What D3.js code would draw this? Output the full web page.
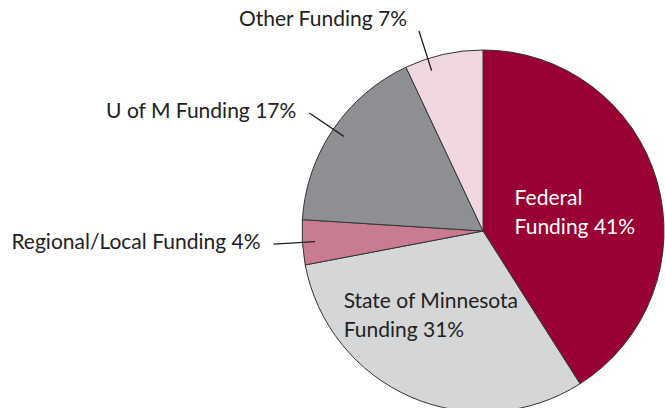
<!DOCTYPE html>
<html>
<head>
<meta charset="utf-8">
<script src="https://cdn.jsdelivr.net/npm/d3@7"></script>
<style>
  body { margin: 0; background: #fff; }
  text { font-family: Lato, "Open Sans", sans-serif; }
</style>
</head>
<body>
<div id="chart-container"></div>
<script>
// data: funding shares, clockwise from the top
const categories = ['Federal', 'State of Minnesota', 'Regional/Local', 'U of M', 'Other']
const shares = [41, 31, 4, 17, 7]
const colors = ['#990033', '#d5d6d8', '#c97c91', '#8e8f92', '#f0d6de']

// labels: inside the slice (two lines) or outside with a leader line
const insideLabels = {
  'Federal': ['Federal', 'Funding 41%'],
  'State of Minnesota': ['State of Minnesota', 'Funding 31%']
}
const outsideLabels = {
  'Regional/Local': 'Regional/Local Funding 4%',
  'U of M': 'U of M Funding 17%',
  'Other': 'Other Funding 7%'
}

const width = 665
const height = 408
const cx = 483
const cy = 231
const radius = 181
const fontSize = 21

const svg = d3.select('#chart-container')
  .append('svg')
  .attr('width', width)
  .attr('height', height)

const g = svg.append('g')
  .attr('transform', `translate(${cx}, ${cy})`)

const data = categories.map((c, i) => ({ key: c, value: shares[i], color: colors[i] }))

const pie = d3.pie().sort(null).value(d => d.value)
const arc = d3.arc().innerRadius(0).outerRadius(radius)
const arcs = pie(data)

// slices
g.selectAll('path')
  .data(arcs)
  .enter()
  .append('path')
  .attr('d', arc)
  .attr('fill', d => d.data.color)
  .attr('stroke', '#333')
  .attr('stroke-width', 1)

// inside labels, placed on the mid angle and shifted a bit
const insidePos = {
  'Federal': { r: 0.55, dx: -64, dy: 2 },
  'State of Minnesota': { r: 0.52, dx: -102, dy: -9 }
}
arcs.filter(d => insideLabels[d.data.key]).forEach(d => {
  const mid = (d.startAngle + d.endAngle) / 2
  const p = insidePos[d.data.key]
  const x = Math.sin(mid) * radius * p.r + p.dx
  const y = -Math.cos(mid) * radius * p.r + p.dy
  const t = g.append('text')
    .attr('x', x)
    .attr('y', y)
    .attr('font-size', fontSize)
    .attr('fill', d.data.key === 'Federal' ? '#fff' : '#222')
  insideLabels[d.data.key].forEach((line, i) => {
    t.append('tspan')
      .attr('x', x)
      .attr('dy', i === 0 ? 0 : 28.5)
      .text(line)
  })
})

// outside labels with leader lines
const angleShift = { 'Other': -0.09, 'U of M': 0, 'Regional/Local': 0 }
arcs.filter(d => outsideLabels[d.data.key]).forEach(d => {
  const a = (d.startAngle + d.endAngle) / 2 + angleShift[d.data.key]
  const r1 = radius * 0.93
  const r2 = radius * 1.16
  const x1 = Math.sin(a) * r1, y1 = -Math.cos(a) * r1
  const x2 = Math.sin(a) * r2, y2 = -Math.cos(a) * r2
  g.append('line')
    .attr('x1', x1).attr('y1', y1)
    .attr('x2', x2).attr('y2', y2)
    .attr('stroke', '#222')
    .attr('stroke-width', 1.3)

  const isTop = d.data.key === 'Other'
  g.append('text')
    .attr('x', isTop ? x2 - 12 : x2 - 13)
    .attr('y', isTop ? y2 - 5 : y2 + 5)
    .attr('text-anchor', 'end')
    .attr('font-size', fontSize)
    .attr('fill', '#222')
    .text(outsideLabels[d.data.key])
})
</script>
</body>
</html>
